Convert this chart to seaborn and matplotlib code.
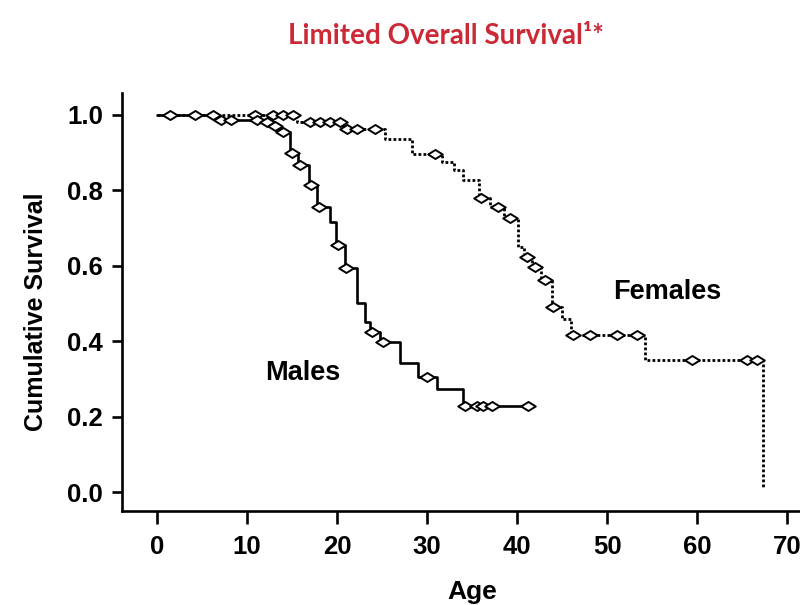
import matplotlib
matplotlib.use("Agg")
import matplotlib.pyplot as plt
import seaborn as sns
from matplotlib.path import Path
from matplotlib.markers import MarkerStyle

# ---- Data ----
male_time = [0, 6.4, 12.0, 12.9, 13.8, 14.8, 15.7, 16.9, 17.8, 19.2, 19.9, 20.9,
             22.2, 23.1, 23.7, 24.8, 27.0, 29.0, 31.1, 34.0, 41.2]
male_surv = [1.0, 0.987, 0.982, 0.970, 0.955, 0.899, 0.867, 0.814, 0.756, 0.716, 0.655, 0.594,
             0.500, 0.450, 0.425, 0.398, 0.342, 0.305, 0.273, 0.228, 0.228]
male_cens_time = [7.1, 8.2, 11.1, 12.2, 13.1, 14.0, 15.0, 15.9, 17.1, 18.0, 20.1, 21.0,
                  23.9, 25.1, 30.0, 34.2, 35.5, 36.2, 37.2, 41.2]
male_cens_surv = [0.987, 0.987, 0.987, 0.982, 0.970, 0.955, 0.899, 0.867, 0.814, 0.756, 0.655, 0.594,
                  0.425, 0.398, 0.305, 0.228, 0.228, 0.228, 0.228, 0.228]

female_time = [0, 15.5, 20.7, 25.3, 28.3, 31.7, 33.0, 34.0, 35.8, 37.0, 38.6, 40.1,
               40.8, 41.7, 42.7, 43.9, 45.0, 46.0, 54.2, 67.3]
female_surv = [1.0, 0.981, 0.963, 0.936, 0.896, 0.875, 0.854, 0.828, 0.780, 0.755, 0.727, 0.650,
               0.623, 0.597, 0.562, 0.490, 0.460, 0.416, 0.350, 0.010]
female_cens_time = [1.4, 4.2, 6.2, 10.9, 12.9, 14.0, 15.1, 17.0, 18.1, 19.2, 20.3, 21.1, 22.2, 24.2,
                    30.9, 36.0, 37.9, 39.2, 41.1, 42.0, 43.1, 44.0, 46.2, 48.1, 51.1, 53.3,
                    59.4, 65.6, 66.7]
female_cens_surv = [1.0, 1.0, 1.0, 1.0, 1.0, 1.0, 1.0, 0.981, 0.981, 0.981, 0.981, 0.963, 0.963, 0.963,
                    0.896, 0.780, 0.755, 0.727, 0.623, 0.597, 0.562, 0.490, 0.416, 0.416, 0.416, 0.416,
                    0.350, 0.350, 0.350]

x_ticks = [0, 10, 20, 30, 40, 50, 60, 70]
y_ticks = [0.0, 0.2, 0.4, 0.6, 0.8, 1.0]

title_text = "Limited Overall Survival\u00b9*"

# ---- Style ----
sns.set_style("ticks")
plt.rcParams["font.family"] = ["Liberation Sans", "DejaVu Sans"]
plt.rcParams["font.weight"] = "bold"
plt.rcParams["text.color"] = "black"
plt.rcParams["axes.labelcolor"] = "black"

fig = plt.figure(figsize=(8, 6.05), dpi=100)
ax = fig.add_axes([0.1525, 0.1554, 0.8475, 0.691])

diamond = MarkerStyle(Path([(-1, 0), (0, 0.62), (1, 0), (0, -0.62), (-1, 0)],
                           [Path.MOVETO, Path.LINETO, Path.LINETO, Path.LINETO, Path.CLOSEPOLY]))

# Female (dotted) curve
sns.lineplot(x=female_time, y=female_surv, estimator=None, sort=False, ax=ax,
             color="black", lw=2.0, linestyle=(0, (1.0, 0.8)), drawstyle="steps-post", zorder=2)
# Male (solid) curve
sns.lineplot(x=male_time, y=male_surv, estimator=None, sort=False, ax=ax,
             color="black", lw=1.9, drawstyle="steps-post", zorder=2)

# Censor marks
sns.scatterplot(x=female_cens_time, y=female_cens_surv, marker=diamond, s=110,
                color="white", edgecolor="black", linewidth=1.4, ax=ax, zorder=3)
sns.scatterplot(x=male_cens_time, y=male_cens_surv, marker=diamond, s=110,
                color="white", edgecolor="black", linewidth=1.4, ax=ax, zorder=3)

ax.set_xlim(-3.9, 71.44)
ax.set_ylim(-0.050, 1.058)
ax.set_xticks(x_ticks)
ax.set_yticks(y_ticks)
ax.set_xticklabels([str(v) for v in x_ticks])
ax.set_yticklabels([f"{v:.1f}" for v in y_ticks])

sns.despine(ax=ax)
for s in ["left", "bottom"]:
    ax.spines[s].set_linewidth(1.9)
    ax.spines[s].set_color("black")

ax.tick_params(axis="x", length=9.5, width=1.9, pad=8, labelsize=18.5, colors="black")
ax.tick_params(axis="y", length=7.5, width=1.9, pad=6, labelsize=18.5, colors="black")
for lab in ax.get_xticklabels() + ax.get_yticklabels():
    lab.set_fontweight("bold")

ax.set_xlabel("Age", fontsize=19, fontweight="bold", labelpad=15, color="black")
ax.set_ylabel("Cumulative Survival", fontsize=18, fontweight="bold", labelpad=14, color="black")
ax.xaxis.label.set_x(0.516)
ax.yaxis.label.set_y(0.476)

ax.text(16.2, 0.316, "Males", fontsize=19.5, fontweight="bold", ha="center", va="center",
        color="black")
ax.text(56.7, 0.530, "Females", fontsize=19.5, fontweight="bold", ha="center", va="center",
        color="black")

fig.text(0.558, 0.940, title_text, fontsize=20, fontweight="bold", color="#cc2936",
         ha="center", va="center", family=["Lato", "DejaVu Sans"])

fig.savefig("out.png", dpi=100)
